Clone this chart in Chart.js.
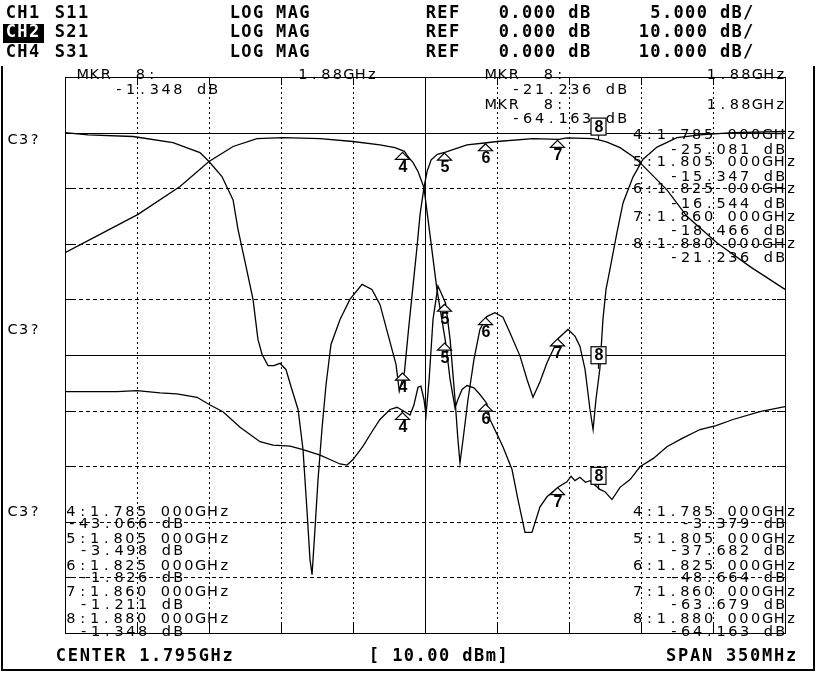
<!DOCTYPE html>
<html>
<head>
<meta charset="utf-8">
<script src="https://cdn.jsdelivr.net/npm/chart.js@4.4.1/dist/chart.umd.min.js"></script>
<style>
  html, body { margin: 0; padding: 0; background: #fff; }
  canvas { display: block; }
</style>
</head>
<body>
<canvas id="ctx" width="816" height="673"></canvas>
<script>
// sweep: center 1.795 GHz, span 350 MHz
const gridFreqs = [1.620, 1.655, 1.690, 1.725, 1.760, 1.795, 1.830, 1.865, 1.900, 1.935, 1.970];
const gridDb10 = [10, 0, -10, -20, -30, -40, -50, -60, -70, -80, -90];
const solidDb10 = [0, -40];

// CH2 S21 (10 dB/div)
const s21Freq = [1.620, 1.6312, 1.6531, 1.6725, 1.6856, 1.690, 1.6963, 1.7017, 1.7041, 1.7075, 1.7114, 1.7138,
  1.7158, 1.7187, 1.7216, 1.7245, 1.7274, 1.7303, 1.7333, 1.7357, 1.7376, 1.7391, 1.7401, 1.7415, 1.7430,
  1.7449, 1.7469, 1.7493, 1.7537, 1.7585, 1.7644, 1.7692, 1.7731, 1.7770, 1.7809, 1.7825, 1.785, 1.787,
  1.789, 1.791, 1.7926, 1.7945, 1.796, 1.798, 1.801, 1.805, 1.8154, 1.825, 1.830, 1.8475, 1.860, 1.864,
  1.8767, 1.880, 1.8835, 1.8898, 1.8961, 1.8995, 1.9126, 1.9224, 1.9369, 1.953, 1.970];
const s21Db = [0.0, -0.4, -0.7, -1.8, -3.6, -5.2, -7.9, -12.1, -17.4, -23.2, -30.0, -37.2,
  -39.9, -41.9, -41.9, -41.5, -42.6, -46.2, -49.8, -57.0, -67.8, -76.8, -79.5, -71.4, -62.4,
  -53.4, -45.3, -38.1, -33.6, -30.0, -27.3, -28.2, -30.9, -36.3, -41.7, -46.5, -43.066, -35.4,
  -28.2, -21.0, -14.7, -9.9, -7.0, -4.9, -3.9, -3.498, -2.2, -1.826, -1.6, -1.1, -1.211, -0.95,
  -1.1, -1.348, -1.7, -2.7, -4.3, -5.4, -10.3, -15.1, -19.8, -24.1, -28.2];

// CH4 S31 (10 dB/div)
const s31Freq = [1.620, 1.637, 1.6555, 1.6759, 1.690, 1.7017, 1.7133, 1.726, 1.744, 1.760, 1.7731, 1.7804,
  1.785, 1.7867, 1.7892, 1.7916, 1.7945, 1.7974, 1.8008, 1.805, 1.8072, 1.8096, 1.811, 1.813, 1.8154,
  1.8188, 1.8217, 1.825, 1.8266, 1.8329, 1.8373, 1.8402, 1.8436, 1.847, 1.8509, 1.8543, 1.860, 1.864,
  1.866, 1.8679, 1.8703, 1.873, 1.8752, 1.880, 1.8825, 1.8859, 1.8898, 1.8947, 1.8995, 1.906, 1.9126,
  1.920, 1.9287, 1.9365, 1.9447, 1.9578, 1.970];
const s31Db = [-21.6, -18.3, -14.7, -9.7, -5.2, -2.5, -1.1, -0.9, -1.1, -1.6, -2.2, -2.7,
  -3.379, -4.3, -5.4, -7.0, -9.9, -18.3, -28.2, -37.682, -44.4, -49.5, -48.0, -46.2, -45.5,
  -45.9, -47.1, -48.664, -51.6, -56.5, -60.6, -66.0, -71.9, -71.9, -67.3, -65.5, -63.679, -62.8,
  -61.8, -62.6, -62.0, -62.9, -62.6, -64.163, -64.6, -66.0, -63.8, -62.4, -60.1, -58.6, -56.5,
  -55.0, -53.4, -52.7, -51.6, -50.2, -49.3];

// CH1 S11 (5 dB/div)
const s11Freq = [1.620, 1.6453, 1.655, 1.6662, 1.6744, 1.6842, 1.6905, 1.6968, 1.7051, 1.7148, 1.7211, 1.7294,
  1.7357, 1.744, 1.7488, 1.7537, 1.7571, 1.760, 1.7649, 1.7692, 1.7731, 1.778, 1.7814, 1.785, 1.7877,
  1.7896, 1.7916, 1.793, 1.7945, 1.7955, 1.797, 1.7989, 1.8013, 1.8028, 1.805, 1.8072, 1.8096, 1.811,
  1.812, 1.8135, 1.8159, 1.8188, 1.8217, 1.825, 1.829, 1.8329, 1.8363, 1.8412, 1.8446, 1.8475, 1.8509,
  1.8543, 1.860, 1.8645, 1.8679, 1.8703, 1.8728, 1.8752, 1.8767, 1.8781, 1.880, 1.8815, 1.883, 1.8849,
  1.8883, 1.8913, 1.8961, 1.901, 1.9078, 1.9175, 1.9287, 1.9447, 1.970];
const s11Db = [-23.3, -23.3, -23.2, -23.4, -23.5, -23.8, -24.5, -25.1, -26.5, -27.8, -28.1, -28.2,
  -28.5, -29.0, -29.4, -29.8, -29.9, -29.4, -28.2, -26.9, -25.8, -24.9, -24.7, -25.081, -25.4,
  -24.5, -22.9, -22.8, -24.0, -25.4, -22.2, -16.8, -13.8, -14.4, -15.347, -18.6, -24.0, -27.6,
  -29.7, -27.6, -24.0, -20.4, -17.7, -16.544, -16.2, -16.6, -18.0, -20.1, -22.2, -23.8, -22.4,
  -20.7, -18.466, -17.7, -18.3, -19.2, -21.3, -24.9, -26.7, -24.0, -21.236, -16.8, -14.1, -12.3,
  -9.0, -6.3, -4.0, -2.4, -1.3, -0.45, -0.2, 0.0, 0.1];

// markers
const markerNums = [4, 5, 6, 7, 8];
const markerFreqs = [1.785, 1.805, 1.825, 1.860, 1.880];
const s11Marks = [-25.081, -15.347, -16.544, -18.466, -21.236];
const s21Marks = [-43.066, -3.498, -1.826, -1.211, -1.348];
const s31Marks = [-3.379, -37.682, -48.664, -63.679, -64.163];

// header
const chNames = ["CH1", "CH2", "CH4"];
const chParams = ["S11", "S21", "S31"];
const chScales = ["5.000 dB/", "10.000 dB/", "10.000 dB/"];

const toPts = (fs, ds) => fs.map((f, i) => ({ x: f, y: ds[i] }));

function spaced(ctx, s, x, y, pitch, align) {
  const x0 = align === "right" ? x - s.length * pitch : x;
  ctx.textAlign = "center";
  for (let i = 0; i < s.length; i++) ctx.fillText(s[i], x0 + i * pitch + pitch / 2, y);
}

const BOLD = "bold 17px 'DejaVu Sans Mono'";
const THIN = "14.5px 'DejaVu Sans'";
const NUM = "bold 16px 'Liberation Sans'";

const analyzer = {
  id: "analyzer",
  beforeDatasetsDraw(chart) {
    const ctx = chart.ctx;
    const { left, right, top, bottom } = chart.chartArea;
    const xs = chart.scales.x, ys = chart.scales.y21;
    ctx.save();
    ctx.strokeStyle = "#000";
    ctx.lineWidth = 1;
    // vertical grid (dotted), center line solid
    gridFreqs.forEach((f, i) => {
      if (i === 0 || i === gridFreqs.length - 1) return;
      const x = Math.round(xs.getPixelForValue(f)) + 0.5;
      ctx.setLineDash(i === 5 ? [] : [2, 3]);
      ctx.beginPath(); ctx.moveTo(x, top); ctx.lineTo(x, bottom); ctx.stroke();
      ctx.setLineDash([]);
      ctx.beginPath(); ctx.moveTo(x, top); ctx.lineTo(x, top + 8);
      ctx.moveTo(x, bottom - 10); ctx.lineTo(x, bottom); ctx.stroke();
    });
    // horizontal grid (dashed), reference lines solid
    gridDb10.forEach((d, i) => {
      if (i === 0 || i === gridDb10.length - 1) return;
      const y = Math.round(ys.getPixelForValue(d)) + 0.5;
      ctx.setLineDash(solidDb10.includes(d) ? [] : [4, 3]);
      ctx.beginPath(); ctx.moveTo(left, y); ctx.lineTo(right, y); ctx.stroke();
      ctx.setLineDash([]);
      ctx.beginPath(); ctx.moveTo(left, y); ctx.lineTo(left + 8, y);
      ctx.moveTo(right - 8, y); ctx.lineTo(right, y); ctx.stroke();
    });
    ctx.strokeRect(Math.round(left) + 0.5, Math.round(top) + 0.5, Math.round(right - left), Math.round(bottom - top));
    // outer frame
    ctx.lineWidth = 2;
    ctx.beginPath();
    ctx.moveTo(2, 66); ctx.lineTo(2, 670); ctx.lineTo(814, 670); ctx.lineTo(814, 66);
    ctx.stroke();
    ctx.restore();
  },
  afterDatasetsDraw(chart) {
    const ctx = chart.ctx;
    const xs = chart.scales.x;
    ctx.save();
    ctx.fillStyle = "#000";
    ctx.strokeStyle = "#000";
    ctx.textBaseline = "middle";

    // header
    ctx.fillRect(3, 24, 41, 19);
    ctx.font = BOLD;
    const rowY = [14, 33, 53];
    for (let r = 0; r < 3; r++) {
      ctx.fillStyle = r === 1 ? "#fff" : "#000";
      spaced(ctx, chNames[r], 5, rowY[r], 11.6);
      ctx.fillStyle = "#000";
      spaced(ctx, chParams[r], 54, rowY[r], 11.6);
      spaced(ctx, "LOG MAG", 229, rowY[r], 11.6);
      spaced(ctx, "REF", 425, rowY[r], 11.6);
      spaced(ctx, "0.000 dB", 498, rowY[r], 11.6);
      spaced(ctx, chScales[r], 754, rowY[r], 11.6, "right");
    }
    // footer
    spaced(ctx, "CENTER 1.795GHz", 55, 657, 11.9);
    spaced(ctx, "[ 10.00 dBm]", 368, 657, 11.7);
    spaced(ctx, "SPAN 350MHz", 797, 657, 12, "right");

    // reference labels
    ctx.font = THIN;
    [140, 330, 512].forEach(y => spaced(ctx, "C3?", 7, y, 11));

    // marker readouts
    const last = markerNums.length - 1;
    const fGHz = markerFreqs[last].toFixed(2) + "GHz";
    spaced(ctx, "MKR  " + markerNums[last] + ":", 77, 75, 11.5);
    spaced(ctx, fGHz, 297, 75, 11.5);
    spaced(ctx, s21Marks[last].toFixed(3) + " dB", 113, 90, 11.8);
    spaced(ctx, "MKR  " + markerNums[last] + ":", 485, 75, 11.5);
    spaced(ctx, fGHz, 786, 75, 11.5, "right");
    spaced(ctx, s11Marks[last].toFixed(3) + " dB", 510, 90, 11.8);
    spaced(ctx, "MKR  " + markerNums[last] + ":", 485, 105, 11.5);
    spaced(ctx, fGHz, 786, 105, 11.5, "right");
    spaced(ctx, s31Marks[last].toFixed(3) + " dB", 510, 119, 11.8);

    // marker tables
    const fLine = i => markerNums[i] + ":" + markerFreqs[i].toFixed(3) + " 000GHz";
    const dLine = v => v.toFixed(3) + " dB";
    markerNums.forEach((n, i) => {
      spaced(ctx, fLine(i), 797, 135 + 27.3 * i, 11.8, "right");
      spaced(ctx, dLine(s11Marks[i]), 786, 150 + 27.1 * i, 11.8, "right");
      spaced(ctx, fLine(i), 65, 512 + 26.9 * i, 11.8);
      spaced(ctx, dLine(s21Marks[i]), 184, 524 + 27.1 * i, 11.8, "right");
      spaced(ctx, fLine(i), 797, 512 + 26.9 * i, 11.8, "right");
      spaced(ctx, dLine(s31Marks[i]), 786, 524 + 27.1 * i, 11.8, "right");
    });

    // marker symbols
    const sets = [["y11", s11Marks], ["y21", s21Marks], ["y31", s31Marks]];
    ctx.lineWidth = 1.2;
    sets.forEach(([id, vals]) => {
      const ys = chart.scales[id];
      markerNums.forEach((n, i) => {
        const x = Math.round(xs.getPixelForValue(markerFreqs[i])) - 1.5;
        const y = ys.getPixelForValue(vals[i]);
        ctx.font = NUM;
        ctx.textAlign = "center";
        if (i === last) {
          ctx.fillStyle = "#fff";
          ctx.fillRect(x - 7.5, y - 22, 15, 17);
          ctx.strokeRect(x - 7.5, y - 22, 15, 17);
          ctx.beginPath(); ctx.moveTo(x, y - 5); ctx.lineTo(x, y); ctx.stroke();
          ctx.fillStyle = "#000";
          ctx.fillText(String(n), x + 0.5, y - 13);
        } else {
          ctx.beginPath();
          ctx.moveTo(x, y + 1); ctx.lineTo(x - 7, y + 8); ctx.lineTo(x + 7, y + 8); ctx.closePath();
          ctx.fillStyle = "#fff"; ctx.fill(); ctx.stroke();
          ctx.fillStyle = "#000";
          ctx.fillText(String(n), x + 0.5, y + 16);
        }
      });
    });
    ctx.restore();
  }
};

const lineSet = (pts, axis) => ({
  data: pts, yAxisID: axis, showLine: true, borderColor: "#000", borderWidth: 1.3,
  pointRadius: 0, tension: 0, fill: false
});

new Chart(document.getElementById("ctx"), {
  type: "scatter",
  data: {
    datasets: [
      lineSet(toPts(s11Freq, s11Db), "y11"),
      lineSet(toPts(s21Freq, s21Db), "y21"),
      lineSet(toPts(s31Freq, s31Db), "y31")
    ]
  },
  options: {
    responsive: false,
    devicePixelRatio: 1,
    animation: false,
    layout: { padding: { left: 65, right: 31, top: 77, bottom: 40 } },
    plugins: { legend: { display: false }, tooltip: { enabled: false } },
    scales: {
      x: { type: "linear", min: gridFreqs[0], max: gridFreqs[gridFreqs.length - 1], display: false },
      y21: { type: "linear", min: -90, max: 10, display: false },
      y31: { type: "linear", min: -90, max: 10, display: false },
      y11: { type: "linear", min: -45, max: 5, display: false }
    }
  },
  plugins: [analyzer]
});
</script>
</body>
</html>
